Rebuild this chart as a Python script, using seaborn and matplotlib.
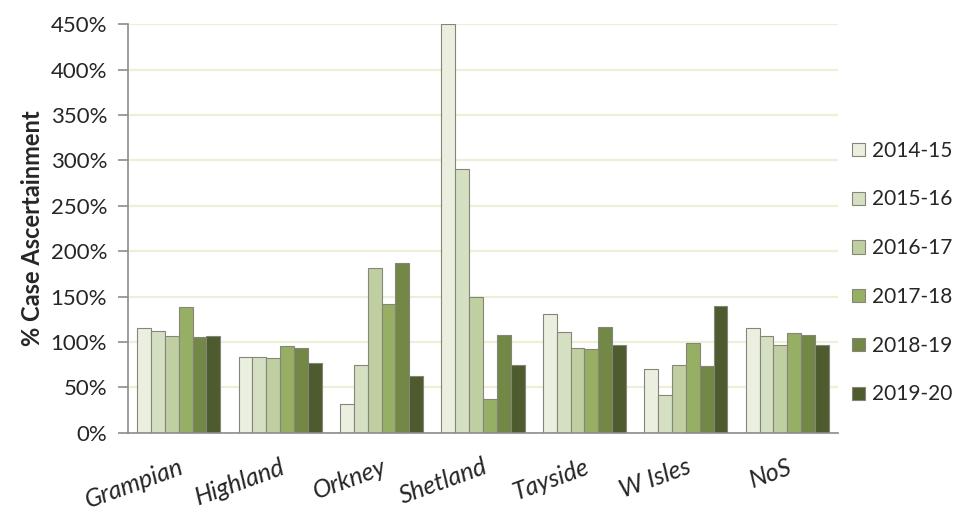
import matplotlib
matplotlib.use("Agg")
import matplotlib.pyplot as plt
import seaborn as sns
import pandas as pd
from matplotlib.ticker import FixedLocator, PercentFormatter

regions = ["Grampian", "Highland", "Orkney", "Shetland", "Tayside", "W Isles", "NoS"]
years = ["2014-15", "2015-16", "2016-17", "2017-18", "2018-19", "2019-20"]
v2014_15 = [115, 84, 32, 450, 131, 70, 115]
v2015_16 = [112, 83, 75, 291, 111, 42, 107]
v2016_17 = [107, 82, 181, 149, 93, 75, 97]
v2017_18 = [139, 96, 142, 37, 92, 99, 110]
v2018_19 = [106, 93, 187, 108, 117, 74, 108]
v2019_20 = [107, 77, 63, 75, 97, 140, 97]
colors = ["#EBF1DE", "#D7E4BD", "#C3D69B", "#9BBB59", "#77933C", "#4F6228"]

series = [v2014_15, v2015_16, v2016_17, v2017_18, v2018_19, v2019_20]
rows = []
for y, vals in zip(years, series):
    for r, v in zip(regions, vals):
        rows.append({"Region": r, "Year": y, "Value": v})
df = pd.DataFrame(rows)

sns.set_style("white")
plt.rcParams["font.family"] = ["Lato", "DejaVu Sans"]

fig = plt.figure(figsize=(9.66, 5.14), dpi=100)
ax = fig.add_axes([0.1325, 0.158, 0.735, 0.795])

sns.barplot(data=df, x="Region", y="Value", hue="Year", order=regions,
            hue_order=years, palette=colors, width=0.82, gap=0,
            edgecolor="#85857a", linewidth=0.8, ax=ax, legend=True)

ax.set_ylim(0, 450)
ax.set_xlim(-0.5, 6.5)
ax.yaxis.set_major_locator(FixedLocator(list(range(0, 451, 50))))
ax.yaxis.set_major_formatter(PercentFormatter(decimals=0))
ax.grid(axis="y", color="#EDEFD9", linewidth=1.6)
ax.set_axisbelow(True)

for s in ["top", "right"]:
    ax.spines[s].set_visible(False)
for s in ["left", "bottom"]:
    ax.spines[s].set_color("#8C8C8C")
    ax.spines[s].set_linewidth(1.2)

ax.set_xticks(range(len(regions)))
ax.set_xticklabels(regions, rotation=20, ha="right", va="top",
                   rotation_mode="anchor", style="italic", fontsize=18)
ax.set_xticks([i - 0.5 for i in range(len(regions) + 1)], minor=True)
ax.tick_params(axis="x", which="major", length=0, pad=16)
ax.tick_params(axis="x", which="minor", length=5, color="#8C8C8C", width=1.2, direction="out")
ax.tick_params(axis="y", length=7, color="#8C8C8C", width=1.2, direction="out",
               labelsize=16, left=True, pad=8)

ax.set_xlabel("")
ax.set_ylabel("% Case Ascertainment", fontsize=17, fontweight="bold", labelpad=5)

leg = ax.legend(loc="center left", bbox_to_anchor=(1.008, 0.392), frameon=False,
                fontsize=15, handlelength=0.6, handleheight=0.6, handletextpad=0.35,
                labelspacing=1.38, borderaxespad=0)
for h in leg.legend_handles:
    h.set_edgecolor("#85857a")

fig.savefig("out.png", dpi=100, facecolor="white")
